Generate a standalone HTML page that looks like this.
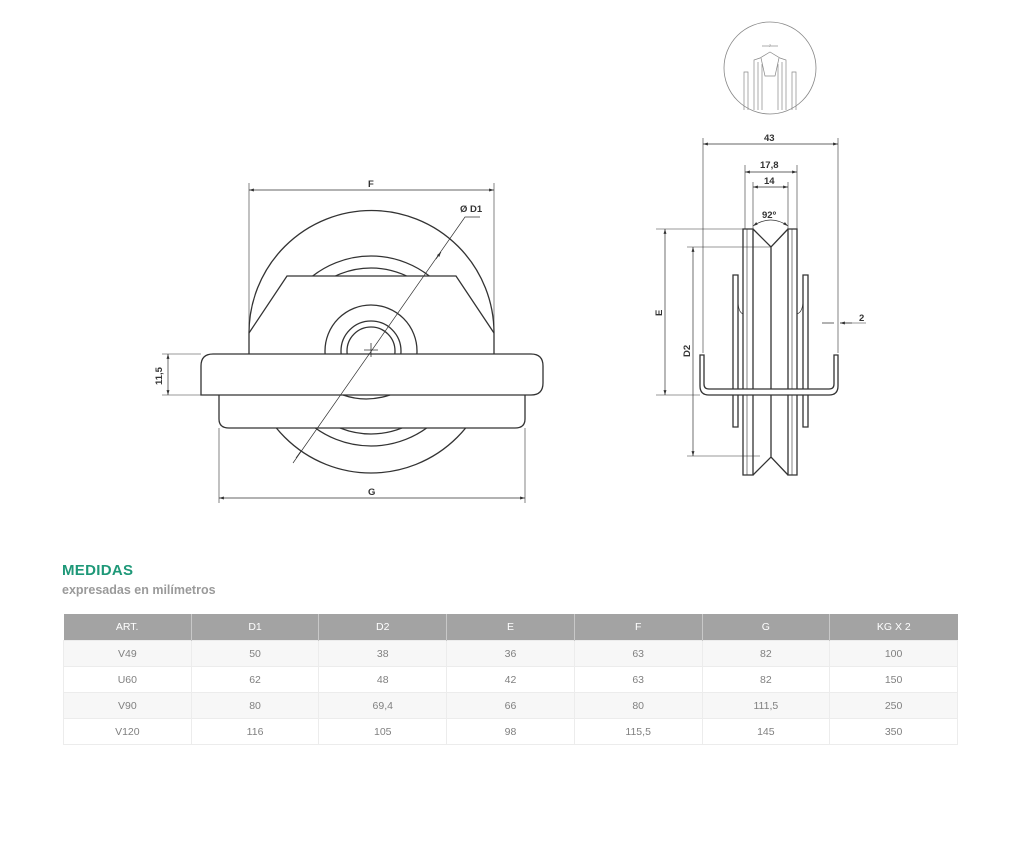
<!DOCTYPE html>
<html><head><meta charset="utf-8"><style>
body{margin:0;background:#fff;width:1024px;height:852px;position:relative;font-family:"Liberation Sans",sans-serif;overflow:hidden}
svg{position:absolute;left:0;top:0}
.t{font:bold 9.5px "Liberation Sans",sans-serif;fill:#333}
h2{position:absolute;left:62px;top:562px;margin:0;font-size:15px;font-weight:bold;color:#1e9878;letter-spacing:.3px}
.sub{position:absolute;left:62px;top:583px;font-size:12.5px;font-weight:bold;color:#9a9a9a}
table{position:absolute;left:63px;top:614px;width:895px;border-collapse:collapse;font-size:10.5px;color:#808080;table-layout:fixed}
th{background:#a3a3a3;color:#fff;font-weight:normal;height:26px;border-left:1px solid #c8c8c8;padding:0}
td{height:25px;text-align:center;border:1px solid #ececec;padding:0}
tr:nth-child(even) td{background:#f7f7f7}
</style></head><body>
<svg width="1024" height="852" viewBox="0 0 1024 852" fill="none" stroke="#333" stroke-width="1.3">
<defs>
<marker id="a" viewBox="0 0 10 10" refX="10" refY="5" markerWidth="7" markerHeight="7" orient="auto-start-reverse"><path d="M0,2L10,5L0,8z" fill="#333" stroke="none"/></marker>
<clipPath id="up"><rect x="0" y="0" width="1024" height="354"/></clipPath>
<clipPath id="up2"><rect x="0" y="0" width="1024" height="276"/></clipPath>
<clipPath id="dn"><rect x="0" y="428" width="1024" height="200"/></clipPath>
</defs>
<!-- LEFT VIEW -->
<path d="M249,354 L249,333 A122,122 0 0 1 494,333 L494,354" />
<g clip-path="url(#up2)"><circle cx="371" cy="351" r="95"/><circle cx="371" cy="351" r="83"/></g>
<path d="M249,333 L287,276 L456,276 L494,333"/>
<g clip-path="url(#up)"><circle cx="371" cy="351" r="46"/><circle cx="371" cy="351" r="30"/><circle cx="371" cy="351" r="24"/></g>
<path d="M213,354 L531,354 Q543,354 543,366 L543,383 Q543,395 531,395 L201,395 L201,366 Q201,354 213,354Z"/>
<path d="M219,395 L219,419 Q219,428 229,428 L515,428 Q525,428 525,419 L525,395"/>
<path d="M343,395 Q366,403 390,395"/>
<g clip-path="url(#dn)"><circle cx="371" cy="351" r="122"/><circle cx="371" cy="351" r="95"/><circle cx="371" cy="351" r="83"/></g>
<path d="M364,350H378M371,343V357" stroke-width=".8"/>
<path d="M293,463L465,217H480" stroke-width=".7"/>
<path d="M296,458L301,451M436,259L441,252" stroke-width=".7" marker-end="url(#a)"/>
<text class="t" x="460" y="212" stroke="none">Ø D1</text>
<path d="M249,183V354M494,183V354" stroke-width=".6"/>
<path d="M249,190H494" stroke-width=".7" marker-start="url(#a)" marker-end="url(#a)"/>
<text class="t" x="368" y="187" stroke="none">F</text>
<path d="M219,428V503M525,428V503" stroke-width=".6"/>
<path d="M219,498H525" stroke-width=".7" marker-start="url(#a)" marker-end="url(#a)"/>
<text class="t" x="368" y="495" stroke="none">G</text>
<path d="M162,354H201M162,395H201" stroke-width=".6"/>
<path d="M168,354V395" stroke-width=".7" marker-start="url(#a)" marker-end="url(#a)"/>
<text class="t" x="0" y="0" stroke="none" transform="translate(162,385) rotate(-90)">11,5</text>
<!-- RIGHT VIEW -->
<circle cx="770" cy="68" r="46" stroke="#888" stroke-width=".8"/>
<g stroke="#888" stroke-width=".7">
<path d="M754,110V60L760,58L770,52L780,58L786,60V110M758,110V62M782,110V62M762,110V64M778,110V64M744,110V72H748V110M796,110V72H792V110"/>
<path d="M761,58L765,76H775L779,58"/><path d="M762,46H778"/>
</g>
<text x="770" y="47" font-size="4" fill="#888" stroke="none" text-anchor="middle">7</text>
<path d="M743,229V475H753V229ZM788,229V475H797V229Z"/>
<path d="M747,229V475M792,229V475" stroke-width=".6"/>
<path d="M753,229L771,247L788,229M771,247V457M753,475L771,457L788,475"/>
<path d="M733,275H738V427H733ZM803,275H808V427H803Z"/>
<path d="M738,300Q738,312 743,314M803,300Q803,312 797,314" stroke-width=".7"/>
<path d="M700,355V386Q700,395 709,395H829Q838,395 838,386V355H834V384Q834,389 829,389H709Q704,389 704,384V355Z" fill="#fff"/>
<path d="M703,138V353M838,138V353" stroke-width=".6"/>
<path d="M703,144H838" stroke-width=".7" marker-start="url(#a)" marker-end="url(#a)"/>
<text class="t" x="764" y="141" stroke="none">43</text>
<path d="M745,165V229M797,165V229" stroke-width=".6"/>
<path d="M745,172H797" stroke-width=".7" marker-start="url(#a)" marker-end="url(#a)"/>
<text class="t" x="760" y="168" stroke="none">17,8</text>
<path d="M753,182V229M788,182V229" stroke-width=".6"/>
<path d="M753,187H788" stroke-width=".7" marker-start="url(#a)" marker-end="url(#a)"/>
<text class="t" x="764" y="184" stroke="none">14</text>
<path d="M753,226Q771,214 788,226" stroke-width=".7" marker-start="url(#a)" marker-end="url(#a)"/>
<text class="t" x="762" y="218" stroke="none">92º</text>
<path d="M656,229H745M656,395H700" stroke-width=".6"/>
<path d="M665,229V395" stroke-width=".7" marker-start="url(#a)" marker-end="url(#a)"/>
<text class="t" x="0" y="0" stroke="none" transform="translate(662,316) rotate(-90)">E</text>
<path d="M687,247H771M687,456H760" stroke-width=".6"/>
<path d="M693,247V456" stroke-width=".7" marker-start="url(#a)" marker-end="url(#a)"/>
<text class="t" x="0" y="0" stroke="none" transform="translate(690,357) rotate(-90)">D2</text>
<path d="M822,323H834M852,323H840" stroke-width=".7" marker-end="url(#a)"/>
<path d="M840,323H866" stroke-width=".6"/>
<text class="t" x="859" y="321" stroke="none">2</text>
</svg>
<h2>MEDIDAS</h2>
<div class="sub">expresadas en milímetros</div>
<table>
<tr><th style="border-left:none">ART.</th><th>D1</th><th>D2</th><th>E</th><th>F</th><th>G</th><th>KG X 2</th></tr>
<tr><td>V49</td><td>50</td><td>38</td><td>36</td><td>63</td><td>82</td><td>100</td></tr>
<tr><td>U60</td><td>62</td><td>48</td><td>42</td><td>63</td><td>82</td><td>150</td></tr>
<tr><td>V90</td><td>80</td><td>69,4</td><td>66</td><td>80</td><td>111,5</td><td>250</td></tr>
<tr><td>V120</td><td>116</td><td>105</td><td>98</td><td>115,5</td><td>145</td><td>350</td></tr>
</table>
</body></html>
